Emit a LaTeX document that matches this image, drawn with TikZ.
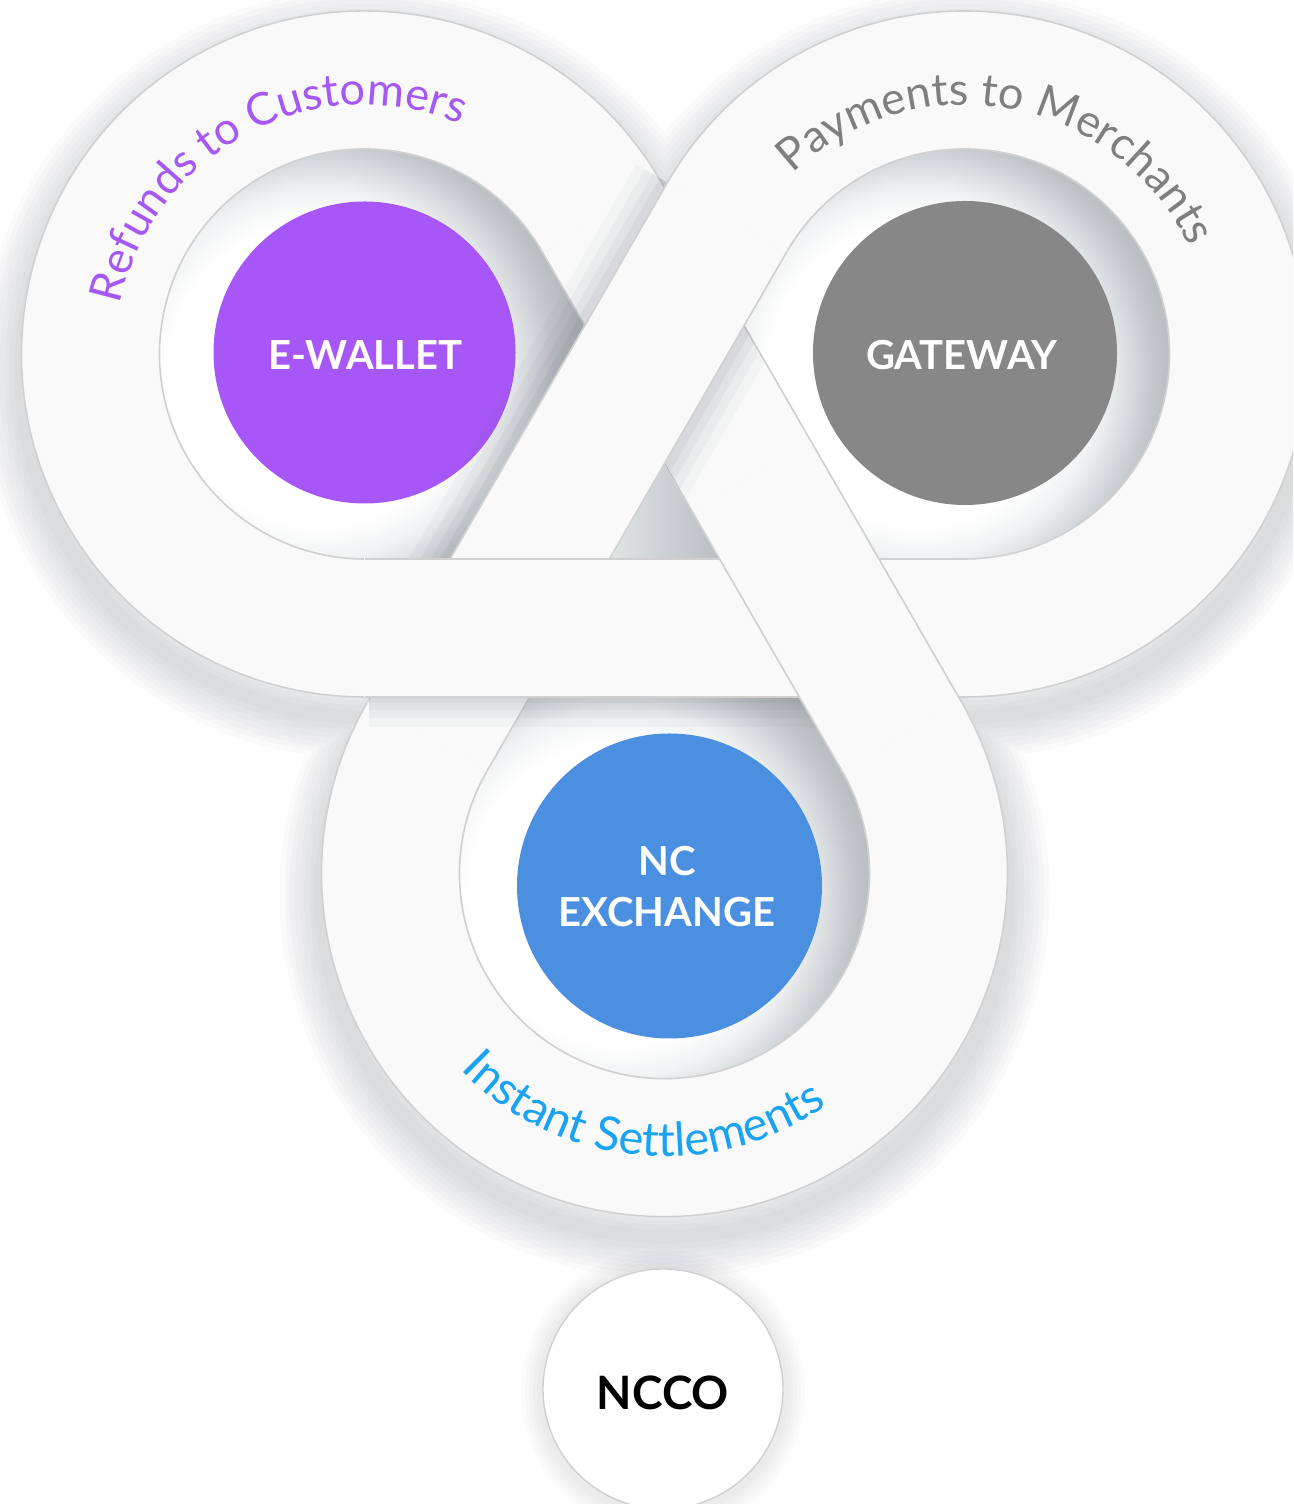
\documentclass[tikz,border=0pt]{standalone}
\usepackage{fontspec}
\setmainfont{Lato}
\usetikzlibrary{calc,decorations.text}
\definecolor{bandcol}{HTML}{F9F9F9}
\definecolor{edgecol}{HTML}{D0D0D0}
\definecolor{hA}{HTML}{F0F2F3}
\definecolor{hB}{HTML}{D8DBDD}
\definecolor{hC}{HTML}{C1C5C8}
\definecolor{hD}{HTML}{B3B8BB}
\definecolor{triL}{HTML}{E6E8E9}
\definecolor{triR}{HTML}{B5BABD}
\definecolor{purp}{HTML}{A757F7}
\definecolor{purptext}{HTML}{A658F5}
\definecolor{gw}{HTML}{878787}
\definecolor{gwtext}{HTML}{7F7F7F}
\definecolor{ncblue}{HTML}{4A8FE0}
\definecolor{instblue}{HTML}{1AA3F3}
\definecolor{shcol}{HTML}{58616A}
\pgfdeclareradialshading{holeshade}{\pgfpoint{0bp}{0bp}}{color(0bp)=(white); color(9.5bp)=(white); color(11.5bp)=(hA); color(13.2bp)=(hB); color(14.8bp)=(hC); color(16.5bp)=(hD); color(50bp)=(hD)}
\newcommand{\curvefont}{\fontsize{45}{54}\selectfont}
\newcommand{\curvefontb}{\fontsize{47}{56}\selectfont}
\begin{document}
\begin{tikzpicture}[x=1pt,y=1pt,
  bandbody/.style={fill=bandcol, draw=bandcol, line width=1pt},
  edgeline/.style={draw=edgecol, line width=1.6pt},
  hubtext/.style={text=white, font=\fontsize{40}{51}\selectfont\bfseries, align=center, inner sep=0pt}]
\useasboundingbox (0,0) rectangle (1293,1504);
\fill[white] (0,0) rectangle (1293,1504);
\clip (0,0) rectangle (1293,1504);
\coordinate (L) at (364.5,1150);
\coordinate (R) at (964.5,1150);
\coordinate (B) at (664.5,630.4);
\coordinate (M3) at ($(L)!0.5!(B)$);

% knot drop shadow
\foreach \w in {84,74,...,14}{
  \draw[draw=shcol, line width=\w pt, opacity=0.026]
    ([yshift=-20pt]L) circle[radius=343] ([yshift=-20pt]R) circle[radius=343] ([yshift=-20pt]B) circle[radius=343];
}

% NCCO
\foreach \w in {44,36,...,12}{
  \draw[draw=shcol, line width=\w pt, opacity=0.025] (663,112) circle[radius=120];
}
\node[circle, fill=white, draw=edgecol, line width=1.4pt, minimum size=240pt, inner sep=0pt] (ncco) at (663,115) {};
\node[font=\fontsize{46}{55}\selectfont\bfseries, text=black, inner sep=0pt] (nccolabel) at (663,111) {NCCO};

% holes
\foreach \c in {L,R,B}{
  \begin{scope}
    \clip (\c) circle[radius=262];
    \shade[shading=holeshade] ($(\c)+(-45,-20)$) circle[radius=400];
  \end{scope}
}
\shade[left color=triL, right color=triR] (596,940) -- (733,940) -- (664.5,1058) -- cycle;

% hubs
\node[circle, fill=purp, minimum size=302pt, inner sep=0pt] (ewallet) at (364.5,1151.5) {};
\node[hubtext] (ewalletlabel) at (365.5,1149) {E-WALLET};
\node[circle, fill=gw, minimum size=304pt, inner sep=0pt] (gateway) at (965,1151) {};
\node[hubtext] (gatewaylabel) at (962,1149) {GATEWAY};
\node[circle, fill=ncblue, minimum size=305pt, inner sep=0pt] (ncx) at (669.5,618) {};
\node[hubtext] (ncxlabel) at (667,617) {NC\\EXCHANGE};

% loops
\foreach \c/\a in {L/30,R/270,B/150}{
  \path[bandbody] ($(\c)+(\a:343)$) arc[start angle=\a, end angle={\a+240}, radius=343]
     -- ($(\c)+({\a+240}:205)$) arc[start angle={\a+240}, end angle=\a, radius=205] -- cycle;
  \draw[edgeline] ($(\c)+(\a:343)$) arc[start angle=\a, end angle={\a+240}, radius=343];
  \draw[edgeline] ($(\c)+(\a:205)$) arc[start angle=\a, end angle={\a+240}, radius=205];
}

% band L->B, upper half (under band R->B)
\path[bandbody] ($(L)+(30:343)$) -- ($(M3)+(30:343)$) -- ($(M3)+(30:205)$) -- ($(L)+(30:205)$) -- cycle;
\draw[edgeline] ($(L)+(30:343)$) -- ($(M3)+(30:343)$);
\draw[edgeline] ($(L)+(30:205)$) -- ($(M3)+(30:205)$);

% shadows cast by band R->B
\begin{scope}
  \clip (0,946) rectangle (1293,1504);
  \foreach \w/\o in {72/0.04,52/0.05,34/0.06,18/0.07}{
    \draw[draw=shcol, line width=\w pt, opacity=\o] ($(R)+(150:343)$) -- ($(B)+(150:343)$);
  }
\end{scope}
\begin{scope}
  \clip ($(L)+(30:343)$) -- ($(B)+(30:343)$) -- ($(B)+(30:205)$) -- ($(L)+(30:205)$) -- cycle;
  \foreach \w/\o in {72/0.04,52/0.05,34/0.06,18/0.07}{
    \draw[draw=shcol, line width=\w pt, opacity=\o] ($(R)+(150:205)$) -- ($(B)+(150:205)$);
  }
\end{scope}

% band R->B
\path[bandbody] ($(R)+(150:343)$) -- ($(B)+(150:343)$) -- ($(B)+(150:205)$) -- ($(R)+(150:205)$) -- cycle;
\draw[edgeline] ($(R)+(150:343)$) -- ($(B)+(150:343)$);
\draw[edgeline] ($(R)+(150:205)$) -- ($(B)+(150:205)$);

% shadow cast by band L->R
\begin{scope}
  \clip (369,0) rectangle (905,1504);
  \foreach \w/\o in {60/0.04,42/0.05,26/0.06,12/0.07}{
    \draw[draw=shcol, line width=\w pt, opacity=\o] ($(L)+(270:343)$) -- ($(R)+(270:343)$);
  }
\end{scope}
% band L->R
\path[bandbody] ($(L)+(270:343)$) -- ($(R)+(270:343)$) -- ($(R)+(270:205)$) -- ($(L)+(270:205)$) -- cycle;
\draw[edgeline] ($(L)+(270:343)$) -- ($(R)+(270:343)$);
\draw[edgeline] ($(L)+(270:205)$) -- ($(R)+(270:205)$);

% band L->B, lower half (over band L->R)
\path[bandbody] ($(M3)+(30:343)$) -- ($(B)+(30:343)$) -- ($(B)+(30:205)$) -- ($(M3)+(30:205)$) -- cycle;
\draw[edgeline] ($(M3)+(30:343)$) -- ($(B)+(30:343)$);
\draw[edgeline] ($(M3)+(30:205)$) -- ($(B)+(30:205)$);

% curved labels
\path[decorate, decoration={text along path, text align=center, text color=purptext,
   text={|\curvefont|Refunds to Customers}}]
   ($(L)+(208:249)$) arc[start angle=208, end angle=28, radius=249];
\path[decorate, decoration={text along path, text align=center, text color=gwtext,
   text={|\curvefont|Payments to Merchants}}]
   ($(R)+(169.5:249)$) arc[start angle=169.5, end angle=-10.5, radius=249];
\path[decorate, decoration={text along path, text align=center, text color=instblue,
   text={|\curvefontb|Instant Settlements}}]
   ($(B)+(174.5:283)$) arc[start angle=174.5, end angle=354.5, radius=283];
\end{tikzpicture}
\end{document}
